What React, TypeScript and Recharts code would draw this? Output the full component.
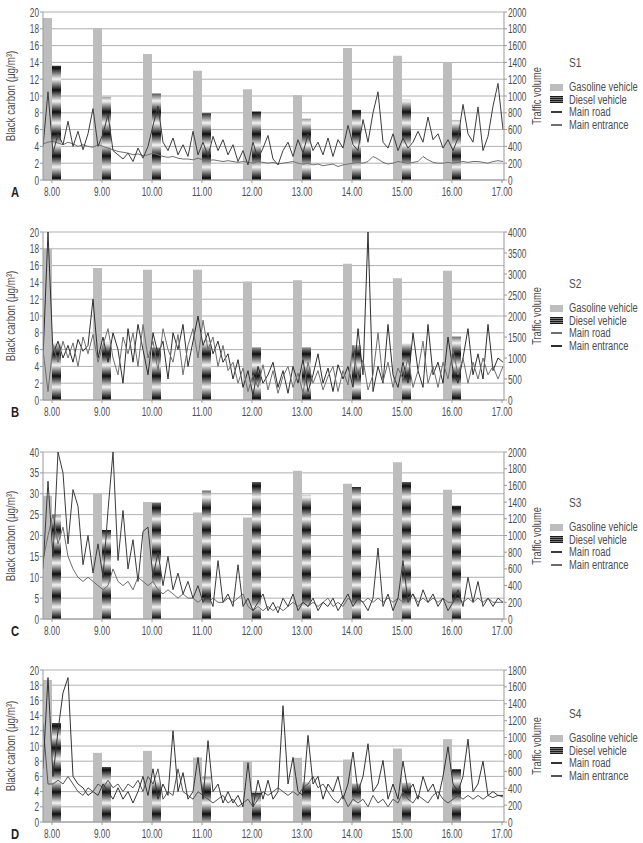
import React from 'react';
import { ComposedChart, Bar, Line, XAxis, YAxis, CartesianGrid } from 'recharts';

const FONT = '"Liberation Sans", Arial, sans-serif';
const TEXT = '#4d4d4d';

// hourly bar positions and the time-axis labels
const barHours = [8, 9, 10, 11, 12, 13, 14, 15, 16];
const hourTicks = [8, 9, 10, 11, 12, 13, 14, 15, 16, 17];

// line samples start just left of 8.00, one every 6 minutes
const SAMPLE_START = 7.82;
const SAMPLE_STEP = 0.1;

// ---- S1 ----
const gasolineS1 = [1930, 1810, 1500, 1300, 1080, 1010, 1570, 1480, 1400];
const dieselS1 = [1360, 990, 1030, 795, 815, 730, 835, 960, 715];
const mainRoadS1 = [
  4.0, 10.5, 3.2, 5.5, 4.2, 7.0, 4.0, 5.8, 3.6, 5.5, 8.5, 4.0, 5.5, 7.8, 3.5, 3.0, 2.5, 3.2, 2.2, 3.8,
  2.6, 4.0, 6.5, 8.8, 4.5, 3.5, 5.0, 3.0, 4.2, 2.8, 5.8, 3.0, 4.5, 2.8, 5.2, 3.5, 4.8, 3.0, 4.2, 2.2,
  3.5, 1.8, 4.5, 2.5, 3.8, 5.3, 2.5, 1.8, 3.5, 4.5, 2.8, 4.8, 3.2, 5.5, 3.5, 4.5, 3.0, 5.0, 2.8, 4.8,
  3.8, 6.5, 4.2, 3.5, 7.2, 4.5, 8.0, 10.5, 4.5, 3.8, 5.5, 3.5, 5.0, 3.8, 4.5, 5.8, 4.5, 7.5, 4.8, 5.5,
  3.8, 4.8, 3.5, 5.0, 9.0, 5.5, 4.5, 8.7, 3.5, 5.2, 8.8, 11.5, 6.0,
];
const mainEntranceS1 = [
  4.3, 4.5, 4.6, 4.4, 4.2, 4.5, 4.3, 4.0, 4.2, 4.0, 3.9, 4.2, 4.0, 3.8, 3.6, 3.4, 3.3, 3.2, 3.0, 3.1,
  2.9, 3.0, 3.2, 3.0, 2.8, 2.7, 2.8, 2.6, 2.5, 2.5, 2.4, 2.6, 2.4, 2.3, 2.4, 2.3, 2.2, 2.3, 2.2, 2.1,
  2.2, 2.1, 2.0, 2.2, 2.1, 2.0, 2.1, 1.9, 2.0, 2.1, 2.2, 2.0, 1.9, 2.0, 1.8, 1.9, 1.7, 1.8, 1.9, 1.6,
  1.8, 1.9, 2.0, 2.1, 2.0, 2.2, 2.8, 2.5, 2.1, 1.9, 2.0, 2.2, 2.1, 2.0, 2.1, 2.2, 2.8, 2.4, 2.1, 2.0,
  2.0, 2.1, 2.0, 2.1, 2.2, 2.1, 2.2, 2.2, 2.1, 2.0, 2.2, 2.3, 2.2,
];
const bcTicksS1 = [0, 2, 4, 6, 8, 10, 12, 14, 16, 18, 20];
const trafficTicksS1 = [0, 200, 400, 600, 800, 1000, 1200, 1400, 1600, 1800, 2000];

// ---- S2 ----
const gasolineS2 = [3600, 3140, 3100, 3100, 2820, 2850, 3245, 2900, 3080];
const dieselS2 = [1360, 1380, 1250, 1415, 1255, 1255, 1310, 1350, 1510];
const mainRoadS2 = [
  6.0, 1.0, 6.5, 4.5, 7.0, 5.0, 6.8, 4.0, 7.5, 5.5, 7.8, 4.5, 6.5, 8.5, 5.0, 3.0, 7.5, 5.5, 8.0, 4.0,
  9.0, 5.0, 7.0, 3.5, 8.5, 6.0, 4.5, 7.8, 3.0, 6.5, 8.5, 5.0, 9.5, 6.0, 7.5, 4.0, 6.5, 3.5, 4.5, 2.0,
  3.8, 1.0, 3.0, 1.5, 4.2, 1.2, 3.5, 0.8, 2.8, 4.0, 1.5, 3.2, 0.8, 4.5, 2.0, 3.5, 1.2, 2.8, 4.0, 1.0,
  3.5, 1.8, 6.5, 2.5, 4.8, 1.2, 3.0, 8.0, 2.2, 4.5, 1.5, 3.8, 2.5, 5.0, 1.5, 3.5, 7.0, 2.0, 4.0, 1.5,
  4.5, 2.5, 6.0, 3.0, 5.0, 2.0, 4.5, 2.5, 5.0, 3.0, 4.0, 2.5, 4.0,
];
const mainEntranceS2 = [
  5.0, 20.0, 5.5, 7.0, 5.0, 6.5, 4.5, 7.2, 5.8, 6.5, 12.0, 5.0, 7.5, 4.5, 8.0, 6.0, 2.0, 8.5, 4.5, 9.0,
  6.0, 3.0, 8.0, 5.5, 7.0, 2.5, 8.0, 6.0, 9.0, 4.0, 7.0, 10.0, 6.5, 8.0, 5.5, 7.0, 4.5, 5.5, 2.5, 4.8,
  1.5, 3.5, 0.5, 4.0, 2.0, 3.0, 4.5, 1.5, 3.5, 0.8, 4.0, 2.0, 4.8, 1.0, 3.0, 5.5, 2.0, 3.8, 1.0, 4.2,
  2.5, 4.0, 1.5, 8.5, 3.0, 20.0, 1.0, 4.0, 2.0, 9.0, 3.0, 1.5, 4.5, 2.0, 8.0, 3.5, 1.5, 9.0, 3.0, 4.5,
  2.0, 7.5, 3.5, 2.0, 5.0, 8.5, 3.0, 5.5, 2.5, 9.0, 3.5, 5.0, 4.5,
];
const bcTicksS2 = [0, 2, 4, 6, 8, 10, 12, 14, 16, 18, 20];
const trafficTicksS2 = [0, 500, 1000, 1500, 2000, 2500, 3000, 3500, 4000];

// ---- S3 ----
const gasolineS3 = [1476, 1496, 1400, 1276, 1216, 1776, 1620, 1876, 1548];
const dieselS3 = [1248, 1066, 1396, 1540, 1640, 1488, 1580, 1640, 1356];
const mainRoadS3 = [
  12, 33, 15, 40, 35, 18, 31, 27, 13, 20, 11, 18, 10, 26, 40, 14, 26, 12, 19, 9,
  21, 22, 10, 16, 8, 15, 7, 11, 6, 9, 5, 8, 4, 6, 3, 14, 4, 6, 3, 13,
  3, 5, 2, 4, 6, 2, 4, 1.5, 5, 3, 6, 2, 4, 3, 5, 2, 4, 3, 5, 2,
  4, 6, 3, 5, 4, 2, 5, 17, 3, 6, 2, 5, 14, 4, 6, 3, 7, 4, 6, 3,
  5, 2, 4, 7, 3, 10, 4, 9, 3, 5, 3, 5, 4,
];
const mainEntranceS3 = [
  14, 20, 25, 18, 22, 15, 12, 10, 9, 10, 9, 8, 7, 8, 12, 9, 8, 9, 7, 10,
  9, 8, 9, 7, 6, 7, 6, 5, 6, 5, 5, 4, 5, 4, 5, 4, 4, 5, 4, 5,
  6, 3, 2, 3, 2, 3, 2, 3, 2, 3, 4, 3, 4, 3, 4, 3, 4, 5, 3, 4,
  3, 5, 4, 5, 4, 5, 4, 5, 4, 5, 4, 5, 4, 5, 6, 4, 5, 4, 5, 4,
  5, 4, 4, 5, 4, 5, 4, 5, 4, 5, 4, 4, 4,
];
const bcTicksS3 = [0, 5, 10, 15, 20, 25, 30, 35, 40];
const trafficTicksS3 = [0, 200, 400, 600, 800, 1000, 1200, 1400, 1600, 1800, 2000];

// ---- S4 ----
const gasolineS4 = [1682, 819, 843, 763, 720, 760, 740, 870, 981];
const dieselS4 = [1172, 651, 497, 533, 347, 475, 455, 467, 625];
const mainRoadS4 = [
  7, 19, 6, 12, 17, 19, 6, 5, 4.5, 3.5, 4, 3.5, 5, 4, 3, 4.5, 3, 4, 2.5, 4,
  6, 3.5, 7, 3, 5, 3.5, 12, 4, 6.5, 3, 4, 8.5, 3, 10.7, 4, 5, 2.5, 4, 2.5, 3.5,
  2, 7.8, 2, 5.5, 3, 5.5, 3, 4, 15.3, 5, 8.5, 4, 3.5, 11.4, 5, 6, 3, 5, 4, 6,
  3, 5, 9.2, 4, 6, 10.3, 4, 5, 8.1, 3, 5, 3, 8, 4, 5, 3, 6, 4, 5, 3,
  6, 9.9, 5, 4, 6, 10.9, 4, 5, 8, 3.5, 4, 3.5, 3.5,
];
const mainEntranceS4 = [
  13, 5, 5, 5.5, 5, 6, 5, 4, 3.5, 4.5, 4, 5, 4.5, 5.5, 4.5, 5, 4, 5, 4.5, 5.5,
  4, 6, 5, 7, 3, 4, 3.5, 7, 4, 3.5, 3, 4, 3.5, 3, 2.5, 3, 3.5, 2.5, 3, 2,
  2.5, 3, 2, 3, 4, 3.5, 4, 4.5, 4, 3.5, 4, 3.5, 4.5, 5, 6, 4.5, 5, 4, 3, 2.5,
  3.5, 2, 3, 2.5, 3, 2, 3.5, 2.5, 3, 2, 3, 2.5, 4, 3, 2.5, 3.5, 3, 2.5, 3.5, 4,
  3, 2.5, 3, 3.5, 3, 3.5, 3, 3.5, 3, 3.5, 3.2, 3.5, 3.3,
];
const bcTicksS4 = [0, 2, 4, 6, 8, 10, 12, 14, 16, 18, 20];
const trafficTicksS4 = [0, 200, 400, 600, 800, 1000, 1200, 1400, 1600, 1800];

const toSeries = (values: number[]) =>
  values.map((v, i) => ({ t: +(SAMPLE_START + i * SAMPLE_STEP).toFixed(2), v }));
const toBars = (gas: number[], diesel: number[]) =>
  barHours.map((h, i) => ({ h, gasoline: gas[i], diesel: diesel[i] }));

const panels = [
  {
    id: 'S1', letter: 'A', top: 12, plotHeight: 168, legendTop: 51,
    bcTicks: bcTicksS1, trafficTicks: trafficTicksS1,
    bars: toBars(gasolineS1, dieselS1),
    road: toSeries(mainRoadS1), entrance: toSeries(mainEntranceS1),
    roadColor: '#3c3c3c', entranceColor: '#707070',
  },
  {
    id: 'S2', letter: 'B', top: 232, plotHeight: 168, legendTop: 52,
    bcTicks: bcTicksS2, trafficTicks: trafficTicksS2,
    bars: toBars(gasolineS2, dieselS2),
    road: toSeries(mainRoadS2), entrance: toSeries(mainEntranceS2),
    roadColor: '#6e6e6e', entranceColor: '#2e2e2e',
  },
  {
    id: 'S3', letter: 'C', top: 452, plotHeight: 167, legendTop: 51,
    bcTicks: bcTicksS3, trafficTicks: trafficTicksS3,
    bars: toBars(gasolineS3, dieselS3),
    road: toSeries(mainRoadS3), entrance: toSeries(mainEntranceS3),
    roadColor: '#3a3a3a', entranceColor: '#6c6c6c',
  },
  {
    id: 'S4', letter: 'D', top: 670, plotHeight: 152, legendTop: 44,
    bcTicks: bcTicksS4, trafficTicks: trafficTicksS4,
    bars: toBars(gasolineS4, dieselS4),
    road: toSeries(mainRoadS4), entrance: toSeries(mainEntranceS4),
    roadColor: '#333333', entranceColor: '#555555',
  },
];

const X_DOMAIN: [number, number] = [7.82, 17.04];
const GAS = '#bdbdbd';

// condensed tick text: Liberation Sans squeezed horizontally
function NarrowTick(props: any) {
  const { x, y, payload, textAnchor, fmt, bottom } = props;
  const label = fmt ? fmt(payload.value) : String(payload.value);
  return (
    <text
      transform={`translate(${x},${y}) scale(0.66,1)`}
      textAnchor={textAnchor}
      dy={bottom ? '0.75em' : '0.36em'}
      fontSize={12.5}
      fontFamily={FONT}
      fill={TEXT}
    >
      {label}
    </text>
  );
}

const narrow = (scale = 0.75): React.CSSProperties => ({
  display: 'inline-block',
  transform: `scaleX(${scale})`,
  transformOrigin: 'left center',
  whiteSpace: 'nowrap',
});

function Panel({ p }: { p: (typeof panels)[number] }) {
  const gid = `diesel-${p.id}`;
  const mt = 10;
  const chartH = mt + p.plotHeight + 26;
  const midY = mt + p.plotHeight / 2;
  const legendRow = (label: string, swatch: React.ReactNode, i: number) => (
    <div
      key={label}
      style={{ position: 'absolute', left: 549, top: mt + p.legendTop + 24 + i * 12.6 - 7, height: 14, display: 'flex', alignItems: 'center', whiteSpace: 'nowrap' }}
    >
      <div style={{ width: 14, display: 'flex', justifyContent: 'center' }}>{swatch}</div>
      <span style={{ marginLeft: 6, fontSize: 12.5, lineHeight: '14px', color: TEXT, fontFamily: FONT, ...narrow(0.75) }}>{label}</span>
    </div>
  );
  const axisTitle = (text: string, cx: number, scale: number) => (
    <div
      style={{
        position: 'absolute', left: cx, top: midY, fontSize: 12.5, lineHeight: '14px', color: TEXT, fontFamily: FONT, whiteSpace: 'nowrap',
        transform: `translate(-50%, -50%) rotate(-90deg) scaleX(${scale})`,
      }}
    >
      {text}
    </div>
  );
  return (
    <div style={{ position: 'absolute', left: 0, top: p.top - mt, width: 643, height: chartH }}>
      <ComposedChart
        width={643}
        height={chartH}
        data={p.bars}
        margin={{ top: mt, right: 98, bottom: 0, left: 0 }}
        barGap={0}
      >
        <defs>
          <linearGradient id={gid} gradientUnits="userSpaceOnUse" x1="0" y1="0" x2="0" y2="11" spreadMethod="reflect">
            <stop offset="0" stopColor="#0e0e0e" />
            <stop offset="0.55" stopColor="#8c8c8c" />
            <stop offset="1" stopColor="#f4f4f4" />
          </linearGradient>
        </defs>
        <CartesianGrid vertical={false} stroke="#b0b0b0" yAxisId="left" xAxisId="time" />
        <XAxis
          xAxisId="time"
          type="number"
          dataKey="t"
          domain={X_DOMAIN}
          allowDataOverflow
          ticks={hourTicks}
          stroke="#999"
          tickSize={3}
          tickMargin={4}
          height={26}
          interval={0}
          tick={(tp: any) => <NarrowTick {...tp} bottom fmt={(h: number) => `${h}.00`} />}
        />
        <XAxis xAxisId="bars" type="number" dataKey="h" domain={X_DOMAIN} allowDataOverflow hide height={0} />
        <YAxis
          yAxisId="left"
          domain={[0, p.bcTicks[p.bcTicks.length - 1]]}
          ticks={p.bcTicks}
          interval={0}
          width={43}
          stroke="#999"
          tickSize={3}
          tickMargin={1}
          tick={(tp: any) => <NarrowTick {...tp} />}
        />
        <YAxis
          yAxisId="right"
          orientation="right"
          domain={[0, p.trafficTicks[p.trafficTicks.length - 1]]}
          ticks={p.trafficTicks}
          interval={0}
          width={41}
          stroke="#999"
          tickSize={3}
          tickMargin={1}
          tick={(tp: any) => <NarrowTick {...tp} />}
        />
        <Bar dataKey="gasoline" name="Gasoline vehicle" xAxisId="bars" yAxisId="right" fill={GAS} barSize={9} isAnimationActive={false} />
        <Bar dataKey="diesel" name="Diesel vehicle" xAxisId="bars" yAxisId="right" fill={`url(#${gid})`} barSize={9} isAnimationActive={false} />
        <Line data={p.entrance} dataKey="v" name="Main entrance" xAxisId="time" yAxisId="left" stroke={p.entranceColor} strokeWidth={1} dot={false} isAnimationActive={false} />
        <Line data={p.road} dataKey="v" name="Main road" xAxisId="time" yAxisId="left" stroke={p.roadColor} strokeWidth={1} dot={false} isAnimationActive={false} />
      </ComposedChart>
      {axisTitle('Black carbon (μg/m³)', 11, 0.78)}
      {axisTitle('Traffic volume', 537, 0.74)}
      <div style={{ position: 'absolute', left: 569, top: mt + p.legendTop - 8, fontSize: 13, lineHeight: '16px', color: TEXT, fontFamily: FONT, ...narrow(0.78) }}>{p.id}</div>
      {legendRow('Gasoline vehicle', <div style={{ width: 13, height: 7, background: GAS }} />, 0)}
      {legendRow('Diesel vehicle', <div style={{ width: 13, height: 7, background: 'repeating-linear-gradient(to bottom, #1a1a1a 0px, #1a1a1a 1px, #7a7a7a 1px, #7a7a7a 2px)' }} />, 1)}
      {legendRow('Main road', <div style={{ width: 11, height: 1.5, background: p.roadColor }} />, 2)}
      {legendRow('Main entrance', <div style={{ width: 11, height: 1.5, background: p.entranceColor }} />, 3)}
      <div style={{ position: 'absolute', left: 11, top: mt + p.plotHeight + 4, fontSize: 14, lineHeight: '16px', fontWeight: 'bold', color: '#222', fontFamily: FONT, ...narrow(0.8) }}>{p.letter}</div>
    </div>
  );
}

export default function App() {
  return (
    <div style={{ position: 'absolute', left: 0, top: 0, width: 643, height: 843, background: '#fff' }}>
      {panels.map((p) => (
        <Panel key={p.id} p={p} />
      ))}
    </div>
  );
}
